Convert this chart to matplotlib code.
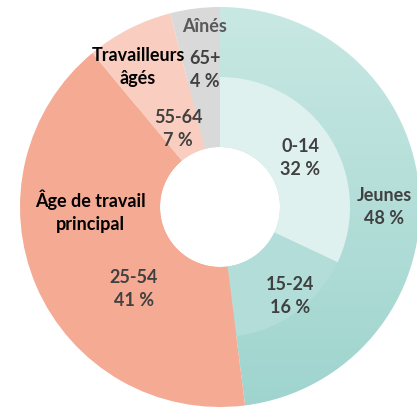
import matplotlib
matplotlib.use("Agg")
import matplotlib.pyplot as plt
import numpy as np
from matplotlib.colors import LinearSegmentedColormap

# Data
groups = ["Jeunes", "Âge de travail\nprincipal", "Travailleurs\nâgés", "Aînés"]
group_values = [48, 41, 7, 4]
ages = ["0-14", "15-24", "25-54", "55-64", "65+"]
age_values = [32, 16, 41, 7, 4]

group_colors = ["#b4dfd9", "#f5aa94", "#f9cec1", "#d9d9d9"]
age_colors = ["#dff1ef", "#b2ddd8", "#f5aa94", "#f9cec1", "#d9d9d9"]

plt.rcParams['font.family'] = ['Lato', 'DejaVu Sans']

fig = plt.figure(figsize=(4.17, 4.08), dpi=100)
ax = fig.add_axes([0, 0, 1, 1])

R_OUT, R_MID, R_HOLE = 1.0, 0.65, 0.3

outer, _ = ax.pie(group_values, radius=R_OUT, colors=group_colors, startangle=90,
                  counterclock=False, wedgeprops=dict(width=R_OUT - R_HOLE, linewidth=0))
inner, _ = ax.pie(age_values, radius=R_MID, colors=age_colors, startangle=90,
                  counterclock=False, wedgeprops=dict(width=R_MID - R_HOLE, linewidth=0))

# vertical gradient on the outer "Jeunes" ring
cmap = LinearSegmentedColormap.from_list("teal", ["#9fd4ce", "#c8e8e3"])
grad = np.linspace(0, 1, 256).reshape(-1, 1)
outer[0].set_facecolor("none")
img = ax.imshow(grad, cmap=cmap, extent=(-1, 1, -1, 1), origin="lower",
                aspect="auto", zorder=outer[0].get_zorder() - 0.1)
img.set_clip_path(outer[0])

dark = "#404040"
fs = 13
ls = 1.4
# group labels
ax.text(0.82, 0.0, "Jeunes\n48 %", ha="center", va="center", fontsize=fs,
        fontweight="bold", color=dark, linespacing=ls)
ax.text(-0.65, -0.02, groups[1], ha="center", va="center", fontsize=fs,
        fontweight="bold", color="black", linespacing=ls)
ax.text(-0.41, 0.70, groups[2], ha="center", va="center", fontsize=fs,
        fontweight="bold", color="black", linespacing=ls)
ax.text(-0.075, 0.905, groups[3], ha="center", va="center", fontsize=fs,
        fontweight="bold", color="#595959")

# age labels
age_pos = [(0.40, 0.245), (0.35, -0.445), (-0.43, -0.41), (-0.21, 0.39), (-0.075, 0.685)]
for name, v, (x, y) in zip(ages, age_values, age_pos):
    ax.text(x, y, f"{name}\n{v} %", ha="center", va="center", fontsize=fs,
            fontweight="bold", color=dark, linespacing=ls)

ax.set_xlim(-1.1, 0.985)
ax.set_ylim(-1.005, 1.035)
ax.set_aspect("auto")
ax.axis("off")

fig.savefig("out.png", dpi=100, facecolor="white")
